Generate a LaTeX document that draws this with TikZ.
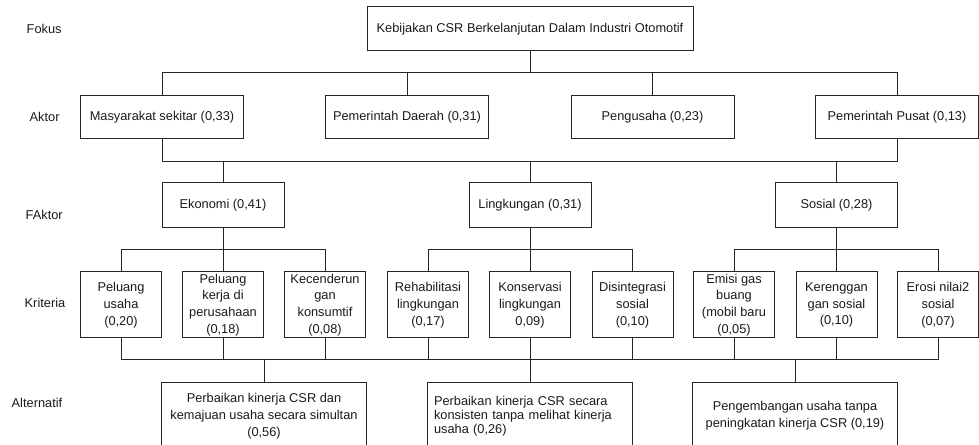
\documentclass[tikz,border=0pt]{standalone}
\usepackage{fontspec}
\setsansfont{Liberation Sans}
\usetikzlibrary{positioning,calc}
\definecolor{lngray}{HTML}{262626}
\definecolor{txtblack}{HTML}{1A1A1A}

\begin{document}
\begin{tikzpicture}[x=0.75pt,y=-0.75pt,font=\sffamily\fontsize{9.6}{12.6}\selectfont,
    box/.style={draw=lngray,line width=0.75pt,inner sep=0pt,align=center,text=txtblack},
    fokusbox/.style={box,minimum width=244.5pt,minimum height=33pt},
    aktorbox/.style={box,minimum width=122.25pt,minimum height=32.25pt},
    faktorbox/.style={box,minimum width=91.5pt,minimum height=33.75pt},
    kritbox/.style={box,minimum width=60.75pt,minimum height=49.5pt},
    altbox/.style={box,minimum width=153.75pt,minimum height=49.5pt},
    level/.style={anchor=west,text=txtblack},
    link/.style={lngray,line width=0.75pt}]

  \useasboundingbox (0,0) rectangle (979,445);

  % =====================================================================
  % Bus levels between the rows
  % =====================================================================
  \coordinate (busA) at (0,73);
  \coordinate (busB) at (0,162);
  \coordinate (busC) at (0,250);
  \coordinate (busD) at (0,360);

  % Level names (left column)
  \node[level] (lvfokus) at (22,29) {Fokus};
  \node[level] (lvaktor) at (25,117) {Aktor};
  \node[level] (lvfaktor) at (21,215) {FAktor};
  \node[level] (lvkrit) at (20,303) {Kriteria};
  \node[level] (lvalt) at (7,403) {Alternatif};

  % Fokus
  \node[fokusbox] (fokus) at (530,29) {Kebijakan CSR Berkelanjutan Dalam Industri Otomotif};

  % Aktor
  \node[aktorbox] (masy) at (162,117.5) {Masyarakat sekitar (0,33)};
  \node[aktorbox] (daerah) at (407,117.5) {Pemerintah Daerah (0,31)};
  \node[aktorbox] (usaha) at (652.5,117.5) {Pengusaha (0,23)};
  \node[aktorbox] (pusat) at (897,117.5) {Pemerintah Pusat (0,13)};

  % Faktor
  \node[faktorbox] (ekonomi) at (223,205.5) {Ekonomi (0,41)};
  \node[faktorbox] (lingk) at (530,205.5) {Lingkungan (0,31)};
  \node[faktorbox] (sosial) at (836.5,205.5) {Sosial (0,28)};

  % Kriteria
  \node[kritbox] (k1) at (121,305) {Peluang\\usaha\\(0,20)};
  \node[kritbox] (k2) at (223,305) {Peluang\\kerja di\\perusahaan\\(0,18)};
  \node[kritbox] (k3) at (325,305) {Kecenderun\\gan\\konsumtif\\(0,08)};
  \node[kritbox] (k4) at (428,305) {Rehabilitasi\\lingkungan\\(0,17)};
  \node[kritbox] (k5) at (530,305) {Konservasi\\lingkungan\\0,09)};
  \node[kritbox] (k6) at (632.5,305) {Disintegrasi\\sosial\\(0,10)};
  \node[kritbox] (k7) at (734,305) {Emisi gas\\buang\\(mobil baru\\(0,05)};
  \node[kritbox] (k8) at (836.5,305) {Kerenggan\\gan sosial\\(0,10)};
  \node[kritbox] (k9) at (938,305) {Erosi nilai2\\sosial\\(0,07)};

  % Alternatif
  \node[altbox] (alt1) at (264,416) {Perbaikan kinerja CSR dan\\kemajuan usaha secara simultan\\(0,56)};
  \node[altbox,align=left,text width=144pt,font=\sffamily\fontsize{9.6}{10.7}\selectfont] (alt2) at (530,416)
        {Perbaikan kinerja CSR secara\\konsisten tanpa melihat kinerja\\usaha (0,26)};
  \node[altbox] (alt3) at (795,416) {Pengembangan usaha tanpa\\peningkatan kinerja CSR (0,19)};

  % =====================================================================
  % Connectors
  % =====================================================================
  % Fokus -> Aktor
  \draw[link] (fokus.south) -- (fokus.south |- busA);
  \draw[link] (masy.north) |- (pusat.north |- busA) -- (pusat.north);
  \foreach \n in {daerah,usaha}
    \draw[link] (\n.north) -- (\n.north |- busA);

  % Aktor -> Faktor
  \draw[link] (masy.south) |- (pusat.south |- busB) -- (pusat.south);
  \foreach \n in {ekonomi,lingk,sosial}
    \draw[link] (\n.north) -- (\n.north |- busB);

  % Faktor -> Kriteria
  \foreach \f/\a/\b/\c in {ekonomi/k1/k2/k3,lingk/k4/k5/k6,sosial/k7/k8/k9} {
    \draw[link] (\a.north) |- (\c.north |- busC) -- (\c.north);
    \draw[link] (\b.north) -- (\f.south);
  }

  % Kriteria -> Alternatif
  \draw[link] (k1.south) |- (k9.south |- busD) -- (k9.south);
  \foreach \k in {k2,k3,k4,k5,k6,k7,k8}
    \draw[link] (\k.south) -- (\k.south |- busD);
  \foreach \n in {alt1,alt2,alt3}
    \draw[link] (\n.north) -- (\n.north |- busD);

\end{tikzpicture}
\end{document}
